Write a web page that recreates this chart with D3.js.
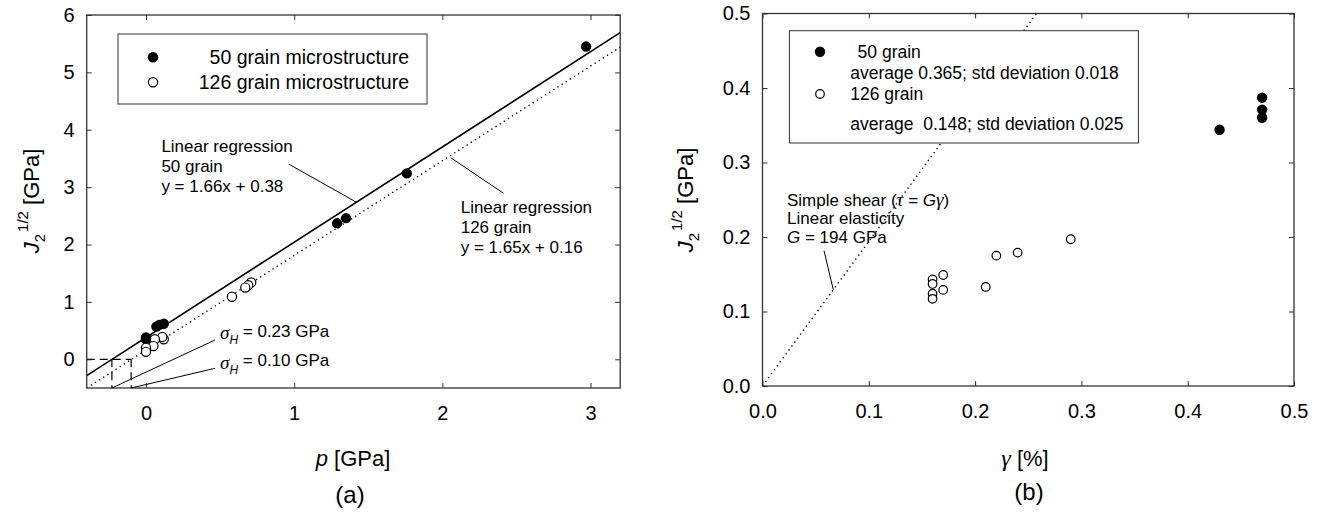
<!DOCTYPE html>
<html>
<head>
<meta charset="utf-8">
<script src="https://cdn.jsdelivr.net/npm/d3@7"></script>
<style>
  body { margin: 0; background: #fff; }
  svg { display: block; }
  text { font-family: "Liberation Sans", Arial, sans-serif; fill: #000; }
</style>
</head>
<body>
<div id="chart"></div>
<script>
// ---- panel (a): J2^1/2 vs p ----
const pFilled = [2.97, 1.76, 1.35, 1.29, 0.12, 0.09, 0.07, 0.0, 0.0]
const jFilled = [5.45, 3.24, 2.46, 2.37, 0.62, 0.60, 0.57, 0.38, 0.35]
const pOpen = [0.71, 0.69, 0.67, 0.58, 0.12, 0.11, 0.06, 0.05, 0.0, 0.0]
const jOpen = [1.34, 1.29, 1.25, 1.09, 0.35, 0.39, 0.35, 0.23, 0.20, 0.13]
const fit50 = { slope: 1.66, icpt: 0.38 }
const fit126 = { slope: 1.65, icpt: 0.16 }
const sigmaH = [0.23, 0.10]
const xTicksA = [0, 1, 2, 3]
const yTicksA = [0, 1, 2, 3, 4, 5, 6]

// ---- panel (b): J2^1/2 vs gamma ----
const gFilled = [0.43, 0.47, 0.47, 0.47]
const sFilled = [0.344, 0.387, 0.371, 0.360]
const gOpen = [0.16, 0.16, 0.16, 0.16, 0.17, 0.17, 0.21, 0.22, 0.24, 0.29]
const sOpen = [0.143, 0.137, 0.124, 0.117, 0.149, 0.129, 0.133, 0.175, 0.179, 0.197]
const shearG = 1.94 // G = 194 GPa with gamma in %
const ticksB = [0, 0.1, 0.2, 0.3, 0.4, 0.5]

const width = 1323, height = 512
const frame = '#333'

const svg = d3.select('#chart').append('svg').attr('width', width).attr('height', height)

const xA = d3.scaleLinear().domain([-0.4, 3.2]).range([86.7, 620.2])
const yA = d3.scaleLinear().domain([-0.5, 6]).range([388, 15])
const xB = d3.scaleLinear().domain([0, 0.5]).range([762.5, 1294])
const yB = d3.scaleLinear().domain([0, 0.5]).range([386, 13.5])

function axes(x, y, xt, yt, fmt) {
  const [x0, x1] = x.range(), [y0, y1] = y.range()
  const g = svg.append('g')
  g.append('g').attr('transform', `translate(0,${y0})`)
    .call(d3.axisBottom(x).tickValues(xt).tickFormat(fmt).tickSize(-5).tickPadding(18))
  g.append('g').attr('transform', `translate(0,${y1})`)
    .call(d3.axisTop(x).tickValues(xt).tickFormat('').tickSize(-5))
  g.append('g').attr('transform', `translate(${x0},0)`)
    .call(d3.axisLeft(y).tickValues(yt).tickFormat(fmt).tickSize(-5).tickPadding(12))
  g.append('g').attr('transform', `translate(${x1},0)`)
    .call(d3.axisRight(y).tickValues(yt).tickFormat('').tickSize(-5))
  g.selectAll('.domain').remove()
  g.selectAll('.tick line').attr('stroke', frame).attr('stroke-width', 1)
  g.selectAll('.tick text').attr('font-size', 20).attr('font-family', '"Liberation Sans", Arial, sans-serif').attr('fill', '#000')
  g.append('rect').attr('x', x0).attr('y', y1).attr('width', x1 - x0).attr('height', y0 - y1)
    .attr('fill', 'none').attr('stroke', frame).attr('stroke-width', 1.3)
}

function clip(id, x, y) {
  const [x0, x1] = x.range(), [y0, y1] = y.range()
  svg.append('clipPath').attr('id', id).append('rect')
    .attr('x', x0).attr('y', y1).attr('width', x1 - x0).attr('height', y0 - y1)
  return svg.append('g').attr('clip-path', `url(#${id})`)
}

function textLines(g, x, ys, lines, size) {
  lines.forEach((l, i) => {
    g.append('text').attr('x', x).attr('y', ys[i]).attr('dy', '0.35em').attr('font-size', size).text(l)
  })
}

// ================= panel (a) =================
const pa = clip('clipA', xA, yA)
const line = d3.line().x(d => xA(d[0])).y(d => yA(d[1]))
const dom = xA.domain()
pa.append('path').datum(dom.map(p => [p, fit50.slope * p + fit50.icpt]))
  .attr('d', line).attr('stroke', '#000').attr('stroke-width', 1.6).attr('fill', 'none')
pa.append('path').datum(dom.map(p => [p, fit126.slope * p + fit126.icpt]))
  .attr('d', line).attr('stroke', '#000').attr('stroke-width', 1.4).attr('stroke-dasharray', '1.3,3.6').attr('fill', 'none')

// dashed box for sigma_H
const sx = sigmaH.map(s => -s)
pa.append('path').datum([[dom[0], 0], [sx[1], 0]]).attr('d', line)
  .attr('stroke', '#000').attr('stroke-width', 1.2).attr('stroke-dasharray', '8,5').attr('fill', 'none')
sx.forEach(s => {
  pa.append('path').datum([[s, 0], [s, -0.5]]).attr('d', line)
    .attr('stroke', '#000').attr('stroke-width', 1.2).attr('stroke-dasharray', '8,5').attr('fill', 'none')
})

pa.selectAll('.filled').data(d3.zip(pFilled, jFilled)).enter().append('circle')
  .attr('cx', d => xA(d[0])).attr('cy', d => yA(d[1])).attr('r', 5.2).attr('fill', '#000')
pa.selectAll('.open').data(d3.zip(pOpen, jOpen)).enter().append('circle')
  .attr('cx', d => xA(d[0])).attr('cy', d => yA(d[1])).attr('r', 4.6)
  .attr('fill', '#fff').attr('stroke', '#000').attr('stroke-width', 1.2)

axes(xA, yA, xTicksA, yTicksA, d3.format('d'))

// legend (a)
const la = svg.append('g')
la.append('rect').attr('x', 118).attr('y', 34).attr('width', 309).attr('height', 70)
  .attr('fill', '#fff').attr('stroke', frame).attr('stroke-width', 1)
la.append('circle').attr('cx', 153).attr('cy', 57.3).attr('r', 5.2).attr('fill', '#000')
la.append('circle').attr('cx', 153).attr('cy', 82.3).attr('r', 4.6).attr('fill', '#fff').attr('stroke', '#000').attr('stroke-width', 1.2)
la.append('text').attr('x', 409).attr('y', 57.3).attr('dy', '0.35em').attr('text-anchor', 'end').attr('font-size', 19.5).text('50 grain microstructure')
la.append('text').attr('x', 409).attr('y', 82.3).attr('dy', '0.35em').attr('text-anchor', 'end').attr('font-size', 19.5).text('126 grain microstructure')

// annotations (a)
const an = svg.append('g')
textLines(an, 161.4, [145.7, 166, 185.7], ['Linear regression', '50 grain', 'y = 1.66x + 0.38'], 17)
textLines(an, 460.7, [207.3, 226.7, 246.7], ['Linear regression', '126 grain', 'y = 1.65x + 0.16'], 17)
an.append('line').attr('x1', 288.6).attr('y1', 164)
  .attr('x2', xA(1.42)).attr('y2', yA(fit50.slope * 1.42 + fit50.icpt)).attr('stroke', '#000')
an.append('line').attr('x1', xA(2.06)).attr('y1', yA(fit126.slope * 2.06 + fit126.icpt) + 3)
  .attr('x2', 503.6).attr('y2', 193.3).attr('stroke', '#000')

const sigY = [333, 362.7], sigEnd = [340, 368.3]
sigmaH.forEach((s, i) => {
  an.append('line').attr('x1', xA(-s)).attr('y1', yA(-0.5)).attr('x2', 215).attr('y2', sigEnd[i])
    .attr('stroke', '#000').attr('stroke-width', 1)
  const t = an.append('text').attr('x', 220).attr('y', sigY[i]).attr('dy', '0.35em').attr('font-size', 17)
  t.append('tspan').attr('font-family', '"Liberation Serif", serif').attr('font-style', 'italic').attr('font-size', 19).text('σ')
  t.append('tspan').attr('font-style', 'italic').attr('font-size', 12).attr('dy', '0.45em').text('H')
  t.append('tspan').attr('dy', '-0.45em').text(` = ${s.toFixed(2)} GPa`)
})

// axis titles (a)
const tx = svg.append('text').attr('x', 353).attr('y', 458).attr('dy', '0.35em').attr('text-anchor', 'middle').attr('font-size', 22)
tx.append('tspan').attr('font-style', 'italic').text('p')
tx.append('tspan').text(' [GPa]')
svg.append('text').attr('x', 350).attr('y', 495).attr('dy', '0.35em').attr('text-anchor', 'middle')
  .attr('font-size', 24).attr('font-family', '"Liberation Serif", serif').text('(a)')

function yTitle(x, y) {
  const t = svg.append('text').attr('transform', `translate(${x},${y}) rotate(-90)`).attr('text-anchor', 'middle').attr('font-size', 22)
  t.append('tspan').attr('font-style', 'italic').text('J')
  t.append('tspan').attr('font-size', 15).attr('dy', 6).text('2')
  t.append('tspan').attr('font-size', 15).attr('dy', -17).attr('dx', 2).text('1/2')
  t.append('tspan').attr('dy', 11).text(' [GPa]')
}
yTitle(39, 201)

// ================= panel (b) =================
const pb = clip('clipB', xB, yB)
const lineB = d3.line().x(d => xB(d[0])).y(d => yB(d[1]))
pb.append('path').datum([[0, 0], [0.5 / shearG, 0.5]]).attr('d', lineB)
  .attr('stroke', '#000').attr('stroke-width', 1.4).attr('stroke-dasharray', '1.3,3.6').attr('fill', 'none')
pb.selectAll('.filled').data(d3.zip(gFilled, sFilled)).enter().append('circle')
  .attr('cx', d => xB(d[0])).attr('cy', d => yB(d[1])).attr('r', 5.2).attr('fill', '#000')
pb.selectAll('.open').data(d3.zip(gOpen, sOpen)).enter().append('circle')
  .attr('cx', d => xB(d[0])).attr('cy', d => yB(d[1])).attr('r', 4.3)
  .attr('fill', '#fff').attr('stroke', '#000').attr('stroke-width', 1.2)

axes(xB, yB, ticksB, ticksB, d3.format('.1f'))

// legend (b)
const lb = svg.append('g')
lb.append('rect').attr('x', 789.4).attr('y', 30.7).attr('width', 349).attr('height', 112.3)
  .attr('fill', '#fff').attr('stroke', frame).attr('stroke-width', 1)
lb.append('circle').attr('cx', 820).attr('cy', 51.7).attr('r', 5.2).attr('fill', '#000')
lb.append('circle').attr('cx', 820).attr('cy', 94).attr('r', 4.3).attr('fill', '#fff').attr('stroke', '#000').attr('stroke-width', 1.2)
textLines(lb, 857.6, [51.7], ['50 grain'], 17.5)
textLines(lb, 850.2, [72.7, 94, 124], ['average 0.365; std deviation 0.018', '126 grain', 'average\u00a0 0.148; std deviation 0.025'], 17.5)

// annotation (b)
const ab = svg.append('g')
const s1 = ab.append('text').attr('x', 787).attr('y', 200).attr('dy', '0.35em').attr('font-size', 17)
s1.append('tspan').text('Simple shear (')
s1.append('tspan').attr('font-family', '"Liberation Serif", serif').attr('font-style', 'italic').attr('font-size', 19).text('τ')
s1.append('tspan').text(' = ')
s1.append('tspan').attr('font-style', 'italic').text('G')
s1.append('tspan').attr('font-family', '"Liberation Serif", serif').attr('font-style', 'italic').attr('font-size', 19).text('γ')
s1.append('tspan').text(')')
ab.append('text').attr('x', 787).attr('y', 218.3).attr('dy', '0.35em').attr('font-size', 17).text('Linear elasticity')
const s3 = ab.append('text').attr('x', 787).attr('y', 236.7).attr('dy', '0.35em').attr('font-size', 17)
s3.append('tspan').attr('font-style', 'italic').text('G')
s3.append('tspan').text(' = 194 GPa')
ab.append('line').attr('x1', 824).attr('y1', 250.7).attr('x2', xB(0.0666)).attr('y2', yB(shearG * 0.0666))
  .attr('stroke', '#000').attr('stroke-width', 1)

// axis titles (b)
const tb = svg.append('text').attr('x', 1025).attr('y', 458).attr('dy', '0.35em').attr('text-anchor', 'middle').attr('font-size', 22)
tb.append('tspan').attr('font-family', '"Liberation Serif", serif').attr('font-style', 'italic').attr('font-size', 24).text('γ')
tb.append('tspan').text(' [%]')
svg.append('text').attr('x', 1029).attr('y', 492).attr('dy', '0.35em').attr('text-anchor', 'middle')
  .attr('font-size', 24).attr('font-family', '"Liberation Serif", serif').text('(b)')
yTitle(693, 200)
</script>
</body>
</html>
